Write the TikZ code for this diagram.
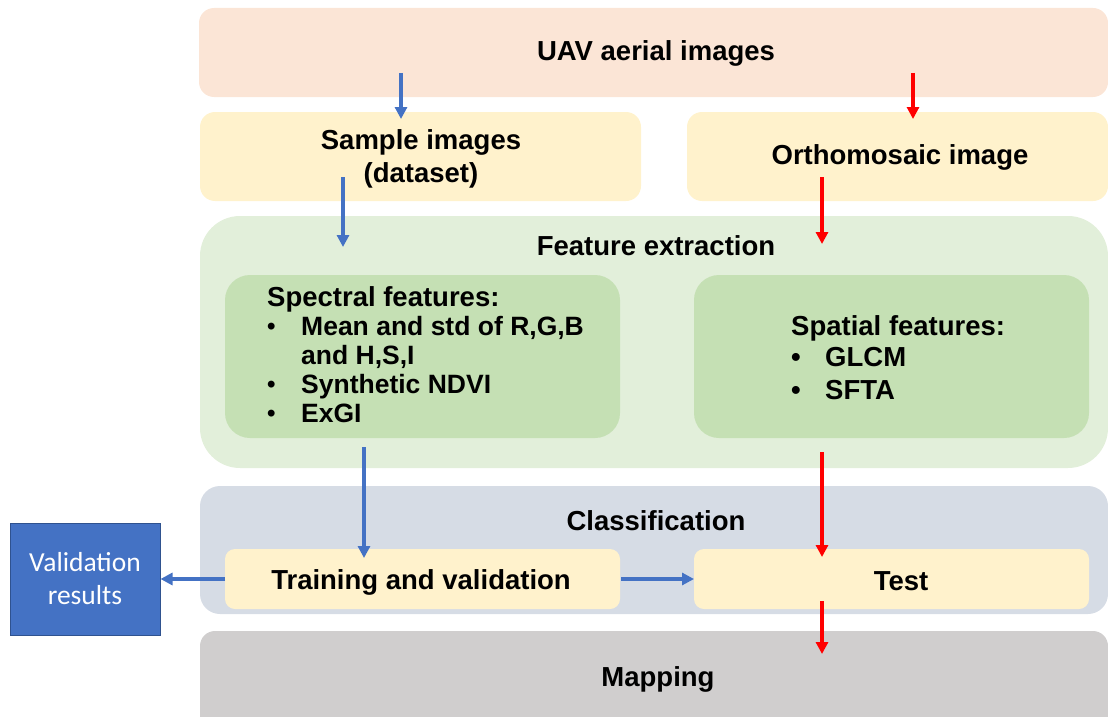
\documentclass[tikz,border=0pt]{standalone}
\usepackage{fontspec}
\setmainfont{Liberation Sans}
\newfontfamily\calib{Carlito}
\usetikzlibrary{arrows.meta}
\definecolor{cuav}{HTML}{FBE5D6}
\definecolor{cyel}{HTML}{FFF2CC}
\definecolor{cfeat}{HTML}{E2EFDA}
\definecolor{cgreen}{HTML}{C5E0B4}
\definecolor{cclass}{HTML}{D6DCE5}
\definecolor{cmap}{HTML}{D0CECE}
\definecolor{cblue}{HTML}{4472C4}
\definecolor{cbluedk}{HTML}{2F528F}
\definecolor{cred}{HTML}{FF0000}
\tikzset{
  lbl/.style={font=\bfseries\fontsize{27.5}{33}\selectfont, inner sep=0pt},
  itm/.style={font=\bfseries\fontsize{26.5}{30}\selectfont, inner sep=0pt, anchor=base west},
  bul/.style={font=\bfseries\fontsize{24}{28}\selectfont, inner sep=0pt, anchor=base west},
  barrow/.style={draw=cblue, line width=3.2pt, -{Triangle[length=12pt,width=12pt]}},
  rarrow/.style={draw=cred, line width=3.2pt, -{Triangle[length=12pt,width=12pt]}},
}
\begin{document}
\begin{tikzpicture}[x=1pt,y=-1pt]
\useasboundingbox (0,0) rectangle (1108,717);
% panels
\fill[cuav, rounded corners=15] (199,8) rectangle (1108,97);
\fill[cyel, rounded corners=15] (200,112) rectangle (641,201);
\fill[cyel, rounded corners=15] (687,112) rectangle (1108,201);
\fill[cfeat, rounded corners=40] (200,216) rectangle (1108,468);
\fill[cgreen, rounded corners=25] (225,275) rectangle (620,438);
\fill[cgreen, rounded corners=25] (694,275) rectangle (1089,438);
\fill[cclass, rounded corners=20] (200,486) rectangle (1108,614);
\fill[cyel, rounded corners=10] (225,549) rectangle (620,609);
\fill[cyel, rounded corners=10] (694,549) rectangle (1089,609);
\fill[cmap, rounded corners=15] (200,631) rectangle (1108,730);
% validation results
\node[draw=cbluedk, fill=cblue, line width=1pt, minimum width=150, minimum height=112,
      inner sep=0pt, align=center, text=white, font=\calib\fontsize{27.5}{33}\selectfont]
      (val) at (85,579) {Validation\\results};
% labels
\node[lbl] (tuav) at (656,53) {UAV aerial images};
\node[lbl, align=center] (tsample) at (421,159) {Sample images\\(dataset)};
\node[lbl] (tortho) at (900,157) {Orthomosaic image};
\node[lbl] (tfeat) at (656,246) {Feature extraction};
\node[lbl] (tclass) at (656,521) {Classification};
\node[lbl] (ttrain) at (421,582) {Training and validation};
\node[lbl] (ttest) at (901,581) {Test};
\node[lbl] (tmap) at (658,679) {Mapping};
% spectral
\node[lbl, anchor=base west] (sp0) at (267,306) {Spectral features:};
\node[bul] (sb1) at (267,334) {•};
\node[itm] (sp1) at (301,335) {Mean and std of R,G,B};
\node[itm] (sp2) at (301,364) {and H,S,I};
\node[bul] (sb3) at (267,392) {•};
\node[itm] (sp3) at (301,393) {Synthetic NDVI};
\node[bul] (sb4) at (267,421) {•};
\node[itm] (sp4) at (301,422) {ExGI};
% spatial
\node[lbl, anchor=base west] (st0) at (791,335) {Spatial features:};
\node[lbl, anchor=base west] (stb1) at (791,366) {•};
\node[lbl, anchor=base west] (st1) at (825,366) {GLCM};
\node[lbl, anchor=base west] (stb2) at (791,399) {•};
\node[lbl, anchor=base west] (st2) at (825,399) {SFTA};
% arrow endpoints
\coordinate (a1s) at (401,73);  \coordinate (a1e) at (401,119);
\coordinate (a2s) at (913,73);  \coordinate (a2e) at (913,119);
\coordinate (a3s) at (343,177); \coordinate (a3e) at (343,247);
\coordinate (a4s) at (822,177); \coordinate (a4e) at (822,244);
\coordinate (a5s) at (364,447); \coordinate (a5e) at (364,558);
\coordinate (a6s) at (822,452); \coordinate (a6e) at (822,557);
\coordinate (a7s) at (822,601); \coordinate (a7e) at (822,654);
\coordinate (a8s) at (225,579);
\coordinate (a9s) at (621,579); \coordinate (a9e) at (694,579);
\draw[barrow] (a1s) -- (a1e);
\draw[rarrow] (a2s) -- (a2e);
\draw[barrow] (a3s) -- (a3e);
\draw[rarrow] (a4s) -- (a4e);
\draw[barrow] (a5s) -- (a5e);
\draw[rarrow] (a6s) -- (a6e);
\draw[rarrow] (a7s) -- (a7e);
\draw[barrow] (a8s) -- (val.east);
\draw[barrow] (a9s) -- (a9e);
\end{tikzpicture}
\end{document}
